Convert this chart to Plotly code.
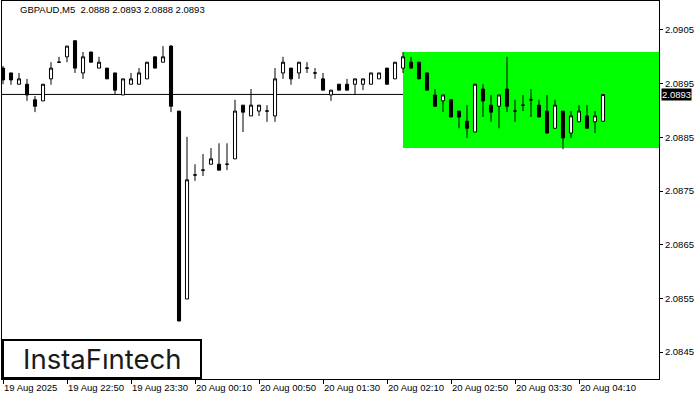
import plotly.graph_objects as go
import pandas as pd

# ---- data (GBPAUD M5) ----
start_time = "2025-08-19 22:10"
n_bars = 76
opens = [2.08979, 2.08970, 2.08949, 2.08949, 2.08920, 2.08918, 2.08959, 2.08990, 2.09000, 2.09030,
         2.08970, 2.09009, 2.08979, 2.08979, 2.08970, 2.08929, 2.08949, 2.08949, 2.08959, 2.09000,
         2.08990, 2.09020, 2.08899, 2.08549, 2.08780, 2.08789, 2.08800, 2.08800, 2.08800, 2.08810,
         2.08910, 2.08890, 2.08899, 2.08899, 2.08890, 2.08970, 2.08979, 2.08970, 2.08979, 2.08970,
         2.08959, 2.08929, 2.08949, 2.08949, 2.08949, 2.08949, 2.08949, 2.08959, 2.08979, 2.08959,
         2.08979, 2.08990, 2.08990, 2.08970, 2.08929, 2.08918, 2.08920, 2.08899, 2.08880, 2.08860,
         2.08940, 2.08910, 2.08908, 2.08940, 2.08899, 2.08910, 2.08920, 2.08910, 2.08899, 2.08867,
         2.08899, 2.08858, 2.08879, 2.08890, 2.08879, 2.08880]
highs = [2.08983, 2.08970, 2.08970, 2.08959, 2.08927, 2.08949, 2.08990, 2.09000, 2.09020, 2.09030,
         2.09009, 2.09009, 2.09000, 2.08979, 2.08970, 2.08959, 2.08970, 2.08979, 2.08990, 2.09000,
         2.09020, 2.09022, 2.08899, 2.08851, 2.08800, 2.08819, 2.08830, 2.08839, 2.08839, 2.08920,
         2.08910, 2.08940, 2.08910, 2.08910, 2.08979, 2.09000, 2.08979, 2.08990, 2.08990, 2.08979,
         2.08970, 2.08938, 2.08949, 2.08959, 2.08959, 2.08959, 2.08970, 2.08970, 2.08979, 2.08990,
         2.09009, 2.09000, 2.08990, 2.08970, 2.08940, 2.08929, 2.08920, 2.08899, 2.08910, 2.08949,
         2.08949, 2.08929, 2.08929, 2.09000, 2.08920, 2.08929, 2.08940, 2.08920, 2.08929, 2.08920,
         2.08899, 2.08899, 2.08910, 2.08910, 2.08899, 2.08930]
lows = [2.08949, 2.08948, 2.08949, 2.08918, 2.08897, 2.08918, 2.08948, 2.08990, 2.08990, 2.08970,
        2.08959, 2.08990, 2.08979, 2.08959, 2.08929, 2.08929, 2.08949, 2.08949, 2.08959, 2.08979,
        2.08990, 2.08897, 2.08508, 2.08549, 2.08769, 2.08778, 2.08800, 2.08789, 2.08789, 2.08810,
        2.08860, 2.08890, 2.08890, 2.08879, 2.08879, 2.08959, 2.08948, 2.08959, 2.08970, 2.08959,
        2.08938, 2.08918, 2.08938, 2.08938, 2.08929, 2.08938, 2.08949, 2.08959, 2.08949, 2.08959,
        2.08970, 2.08979, 2.08959, 2.08938, 2.08908, 2.08897, 2.08888, 2.08867, 2.08849, 2.08860,
        2.08888, 2.08879, 2.08867, 2.08897, 2.08879, 2.08899, 2.08888, 2.08888, 2.08858, 2.08867,
        2.08828, 2.08849, 2.08879, 2.08867, 2.08858, 2.08880]
closes = [2.08957, 2.08957, 2.08959, 2.08929, 2.08908, 2.08949, 2.08979, 2.08990, 2.09020, 2.08979,
          2.09000, 2.08990, 2.08990, 2.08959, 2.08938, 2.08959, 2.08959, 2.08970, 2.08990, 2.08979,
          2.09000, 2.08908, 2.08508, 2.08771, 2.08780, 2.08789, 2.08810, 2.08789, 2.08800, 2.08899,
          2.08897, 2.08910, 2.08910, 2.08899, 2.08959, 2.08990, 2.08959, 2.08990, 2.08979, 2.08970,
          2.08938, 2.08938, 2.08938, 2.08938, 2.08959, 2.08959, 2.08970, 2.08970, 2.08949, 2.08990,
          2.09000, 2.08979, 2.08959, 2.08938, 2.08908, 2.08929, 2.08888, 2.08888, 2.08867, 2.08949,
          2.08918, 2.08897, 2.08929, 2.08908, 2.08899, 2.08910, 2.08920, 2.08888, 2.08858, 2.08910,
          2.08849, 2.08890, 2.08899, 2.08867, 2.08890, 2.08930]

title_text = "GBPAUD,M5  2.0888 2.0893 2.0888 2.0893"
current_price = 2.0893
current_label = "2.0893"

x_tick_vals = ["2025-08-19 22:10", "2025-08-19 22:50", "2025-08-19 23:30", "2025-08-20 00:10",
               "2025-08-20 00:50", "2025-08-20 01:30", "2025-08-20 02:10", "2025-08-20 02:50",
               "2025-08-20 03:30", "2025-08-20 04:10"]
x_tick_text = ["19 Aug 2025", "19 Aug 22:50", "19 Aug 23:30", "20 Aug 00:10", "20 Aug 00:50",
               "20 Aug 01:30", "20 Aug 02:10", "20 Aug 02:50", "20 Aug 03:30", "20 Aug 04:10"]
y_tick_vals = [2.0845, 2.0855, 2.0865, 2.0875, 2.0885, 2.0895, 2.0905]
y_tick_text = ["2.0845", "2.0855", "2.0865", "2.0875", "2.0885", "2.0895", "2.0905"]

rect_start = "2025-08-20 02:20"
rect_low = 2.08830
rect_high = 2.09009

x_range = ["2025-08-19 22:09:22", "2025-08-20 05:00:00"]
y_range = [2.08400, 2.09104]

times = pd.date_range(start_time, periods=n_bars, freq="5min")

FONT = "Liberation Sans, Arial, sans-serif"

fig = go.Figure()
fig.add_trace(go.Candlestick(
    x=times, open=opens, high=highs, low=lows, close=closes,
    increasing=dict(line=dict(color="black", width=1), fillcolor="white"),
    decreasing=dict(line=dict(color="black", width=1), fillcolor="black"),
    whiskerwidth=0, hoverinfo="skip", showlegend=False,
))

fig.add_shape(type="rect", xref="x", yref="y", x0=rect_start, x1=x_range[1],
              y0=rect_low, y1=rect_high, fillcolor="#00FF00", line=dict(width=0), layer="below")
fig.add_shape(type="line", xref="paper", yref="y", x0=0, x1=1, y0=current_price, y1=current_price,
              line=dict(color="black", width=1), layer="below")

# Logo box
fig.add_shape(type="rect", xref="paper", yref="paper", x0=0.0015, x1=0.3029, y0=0.0026, y1=0.1032,
              fillcolor="white", line=dict(color="black", width=2), layer="above")
fig.add_annotation(xref="paper", yref="paper", x=0.1537, y=0.053, text="InstaFıntech",
                   showarrow=False, font=dict(family="Inter, Lato, sans-serif", size=27.5, color="#1a1a1a"),
                   xanchor="center", yanchor="middle")

# Title
fig.add_annotation(xref="paper", yref="paper", x=0.0244, y=0.977, text=title_text, showarrow=False,
                   xanchor="left", yanchor="middle", font=dict(family=FONT, size=9.5, color="black"))

# Current price label
fig.add_annotation(xref="paper", yref="y", x=1.003, y=current_price, text=current_label, showarrow=False,
                   xanchor="left", yanchor="middle", bgcolor="black", borderpad=0,
                   font=dict(family=FONT, size=9.5, color="white"))

fig.update_layout(
    width=700, height=400,
    margin=dict(l=2, r=41, t=1, b=21, autoexpand=False),
    paper_bgcolor="white", plot_bgcolor="white",
    boxgap=0.45,
    showlegend=False,
    xaxis=dict(type="date", range=x_range, rangeslider=dict(visible=False),
               tickvals=x_tick_vals, ticktext=x_tick_text, ticks="outside", ticklen=4,
               tickcolor="black", ticklabelposition="outside right", tickangle=0, automargin=False,
               showgrid=False, zeroline=False, showline=True, linecolor="black", linewidth=1,
               mirror=True, tickfont=dict(family=FONT, size=9.5, color="black")),
    yaxis=dict(range=y_range, side="right", tickvals=y_tick_vals, ticktext=y_tick_text,
               ticks="outside", ticklen=3, tickcolor="black", automargin=False,
               showgrid=False, zeroline=False, showline=True, linecolor="black", linewidth=1,
               mirror=True, tickfont=dict(family=FONT, size=9.5, color="black")),
)

fig.write_html("out.html", config={"displayModeBar": False},
               post_script="document.body.style.margin='0';")
